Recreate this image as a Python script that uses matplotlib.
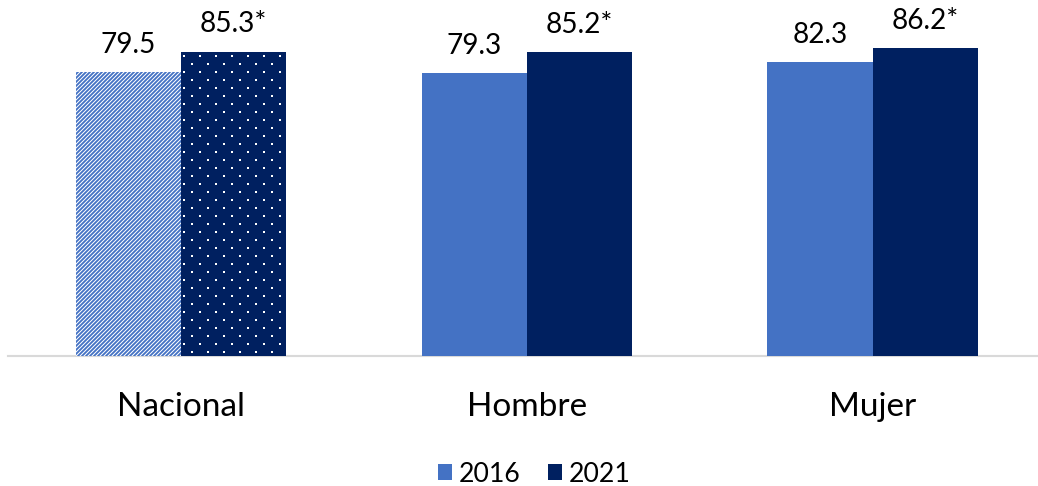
import numpy as np
import matplotlib
matplotlib.use("Agg")
import matplotlib.pyplot as plt
import matplotlib.hatch as mhatch
from matplotlib.path import Path
from matplotlib.patches import Patch

# ---------------- data ----------------
categories = ["Nacional", "Hombre", "Mujer"]
series_names = ["2016", "2021"]
values_2016 = [79.5, 79.3, 82.3]
values_2021 = [85.3, 85.2, 86.2]
labels_2016 = ["79.5", "79.3", "82.3"]
labels_2021 = ["85.3*", "85.2*", "86.2*"]

# ---------------- styles ----------------
color_2016 = "#4472C4"
color_2021 = "#002060"
hatch_2016 = ["////////", "", ""]
hatch_2021 = [".", "", ""]


# staggered square-dot hatch (replaces the default '.' pattern)
class _StaggeredDots(mhatch.HatchPatternBase):
    half = 0.0052

    def __init__(self, hatch, density):
        n = hatch.count(".") * density
        self.pts = []
        if n:
            nrows = 2 * n
            for r in range(nrows + 1):
                y = r / nrows
                if r % 2 == 0:
                    xs = [c / n for c in range(n + 1)]
                else:
                    xs = [(c + 0.5) / n for c in range(n)]
                self.pts.extend((x, y) for x in xs)
        self.num_vertices = len(self.pts) * 5

    def set_vertices_and_codes(self, vertices, codes):
        h = self.half
        for k, (x, y) in enumerate(self.pts):
            vertices[5 * k:5 * k + 5] = [(x - h, y - h), (x + h, y - h),
                                         (x + h, y + h), (x - h, y + h),
                                         (x - h, y - h)]
            codes[5 * k:5 * k + 5] = [Path.MOVETO, Path.LINETO, Path.LINETO,
                                      Path.LINETO, Path.CLOSEPOLY]


try:
    mhatch._hatch_types = [t for t in mhatch._hatch_types
                           if t is not mhatch.SmallFilledCircles] + [_StaggeredDots]
except Exception:
    pass

plt.rcParams["font.family"] = ["Lato", "DejaVu Sans"]
plt.rcParams["hatch.linewidth"] = 0.75

W, H, DPI = 1038, 486, 96
fig = plt.figure(figsize=(W / DPI, H / DPI), dpi=DPI)
base_y = 355.5
ax = fig.add_axes([8 / W, (H - base_y) / H, 1029 / W, base_y / H])

x = np.arange(len(categories))
w = 0.304
b1 = ax.bar(x - w / 2, values_2016, width=w, color=color_2016,
            edgecolor="white", linewidth=0, zorder=2)
b2 = ax.bar(x + w / 2, values_2021, width=w, color=color_2021,
            edgecolor="white", linewidth=0, zorder=2)
for bar, h in zip(b1, hatch_2016):
    bar.set_hatch(h)
for bar, h in zip(b2, hatch_2021):
    bar.set_hatch(h)

ax.set_xlim(-0.5004, 2.4757)
ax.set_ylim(0, 99.8)

for sp in ["left", "right", "top"]:
    ax.spines[sp].set_visible(False)
ax.spines["bottom"].set_color("#D9D9D9")
ax.spines["bottom"].set_linewidth(1.6)
ax.spines["bottom"].set_zorder(1)
ax.set_yticks([])
ax.set_xticks([])

label_fs = 21
for bars, labs in ((b1, labels_2016), (b2, labels_2021)):
    for bar, lab in zip(bars, labs):
        ax.annotate(lab, xy=(bar.get_x() + bar.get_width() / 2, bar.get_height()),
                    xytext=(0, 14.6), textcoords="offset points",
                    ha="center", va="baseline", fontsize=label_fs, color="black")

cat_fs = 25
for xi, cat in zip(x, categories):
    ax.annotate(cat, xy=(xi, 0), xycoords=("data", "axes fraction"),
                xytext=(0, -45.4), textcoords="offset points",
                ha="center", va="baseline", fontsize=cat_fs, color="black",
                annotation_clip=False)

leg_fs = 20
handles = [Patch(facecolor=color_2016, edgecolor="none"),
           Patch(facecolor=color_2021, edgecolor="none")]
fig.legend(handles, series_names, loc="center",
           bbox_to_anchor=(534.5 / W, 1 - 474 / H), ncol=2, frameon=False,
           fontsize=leg_fs, handlelength=10.5 / leg_fs, handleheight=10.5 / leg_fs,
           handletextpad=0.25, columnspacing=1.05, borderaxespad=0, borderpad=0)

fig.savefig("out.png", dpi=DPI)
